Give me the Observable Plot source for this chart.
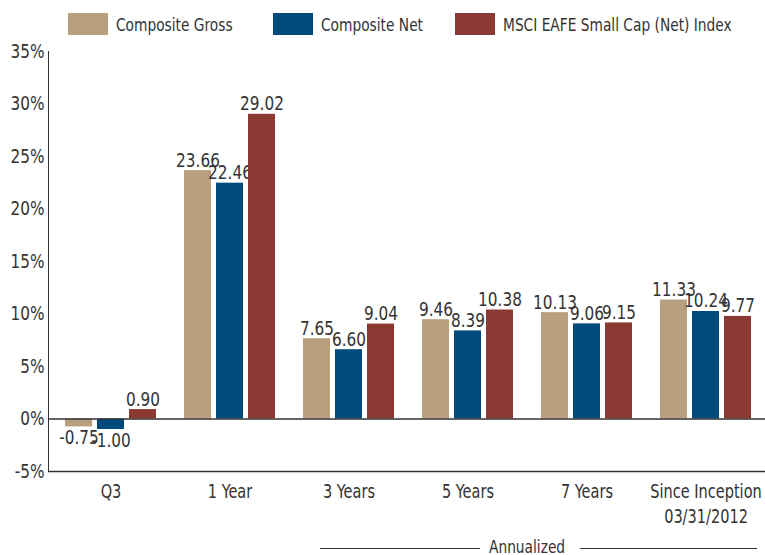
<!DOCTYPE html>
<html><head><meta charset="utf-8">
<script src="https://cdn.jsdelivr.net/npm/d3@7"></script>
<script src="https://cdn.jsdelivr.net/npm/@observablehq/plot@0.6"></script>
<style>
body{margin:0;background:#fff;font-family:"DejaVu Sans Condensed","DejaVu Sans",sans-serif;color:#333;}
#wrap{position:relative;width:765px;height:555px;overflow:hidden}
#legend{position:relative;height:40px}
.item{position:absolute;top:13px;display:flex;align-items:center;font-size:18px;white-space:nowrap}
.sw{width:40px;height:22px;margin-right:8px;flex:none}
.item span, #ann span{display:inline-block;transform:scaleX(0.85);transform-origin:left center}
#ann{position:absolute;top:537px;left:0;width:765px;height:20px;font-size:18px}
#ann .ln{position:absolute;top:11px;height:1px;background:#333}
#ann span{position:absolute;left:489px;top:0;line-height:20px}
svg g[aria-label="y-axis tick label"]{font-size:20px}
svg g[aria-label="x-axis tick label"]{font-size:19px}
</style></head><body>
<div id="wrap"><div id="legend"></div><div id="chart"></div><div id="ann"><div class="ln" style="left:320px;width:160px"></div><span>Annualized</span><div class="ln" style="left:580px;width:177px"></div></div></div>
<script>
const categories = ["Q3","1 Year","3 Years","5 Years","7 Years","Since Inception\n03/31/2012"];
const seriesNames = ["Composite Gross","Composite Net","MSCI EAFE Small Cap (Net) Index"];
const compositeGross = [-0.75, 23.66, 7.65, 9.46, 10.13, 11.33];
const compositeNet = [-1.00, 22.46, 6.60, 8.39, 9.06, 10.24];
const msciIndex = [0.90, 29.02, 9.04, 10.38, 9.15, 9.77];
const yTicks = [-5, 0, 5, 10, 15, 20, 25, 30, 35];
const colors = ["#B8A07E", "#004A7C", "#8B3A33"];

const seriesValues = [compositeGross, compositeNet, msciIndex];
const legendLeft = [68, 273, 455];
const insetsL = [14, 46, 78], insetsR = [78, 46, 14], offs = [-32, 0, 32];

const legend = document.getElementById("legend");
seriesNames.forEach((n, i) => {
  const it = document.createElement("div");
  it.className = "item";
  it.style.left = legendLeft[i] + "px";
  it.innerHTML = `<div class="sw" style="background:${colors[i]}"></div><span>${n}</span>`;
  legend.appendChild(it);
});

const marks = [];
seriesValues.forEach((vals, i) => {
  const data = categories.map((c, k) => ({cat: c, value: vals[k]}));
  marks.push(Plot.barY(data, {x: "cat", y: "value", fill: colors[i], insetLeft: insetsL[i], insetRight: insetsR[i]}));
  marks.push(Plot.text(data.filter(d => d.value >= 0), {x: "cat", y: "value", text: d => d.value.toFixed(2), dx: offs[i], dy: -4, lineAnchor: "bottom", fontSize: 20, fill: "#333"}));
  marks.push(Plot.text(data.filter(d => d.value < 0), {x: "cat", y: "value", text: d => d.value.toFixed(2), dx: offs[i], dy: 3, lineAnchor: "top", fontSize: 20, fill: "#333"}));
});
marks.push(Plot.ruleY([0], {stroke: "#333", strokeWidth: 1.5}));
marks.push(Plot.ruleY([-5], {stroke: "#333", strokeWidth: 1.5}));

const plot = Plot.plot({
  width: 765,
  height: 515,
  marginTop: 11,
  marginBottom: 84,
  marginLeft: 48,
  marginRight: -2,
  style: {color: "#333", fontFamily: '"DejaVu Sans Condensed","DejaVu Sans",sans-serif', background: "#fff", overflow: "visible"},
  x: {domain: categories, padding: 0, tickSize: 0, tickPadding: 13, label: null},
  y: {domain: [-5, 35], ticks: yTicks, tickFormat: d => d + "%", tickSize: 0, tickPadding: 4, line: true, label: null},
  marks
});
document.getElementById("chart").appendChild(plot);

// wider line spacing for multi-line tick labels
plot.querySelectorAll('g[aria-label="x-axis tick label"] text').forEach(t => {
  t.querySelectorAll("tspan").forEach((s, j) => { if (j > 0) s.setAttribute("dy", "1.3em"); });
});

// condense glyphs horizontally to mimic the narrow typeface
const K = 0.85;
plot.querySelectorAll("text").forEach(t => {
  const spans = t.querySelectorAll("tspan");
  const targets = spans.length ? Array.from(spans) : [t];
  targets.forEach(el => {
    const len = el.getComputedTextLength();
    if (len > 0) {
      el.setAttribute("textLength", (len * K).toFixed(2));
      el.setAttribute("lengthAdjust", "spacingAndGlyphs");
    }
  });
});
</script>
</body></html>
